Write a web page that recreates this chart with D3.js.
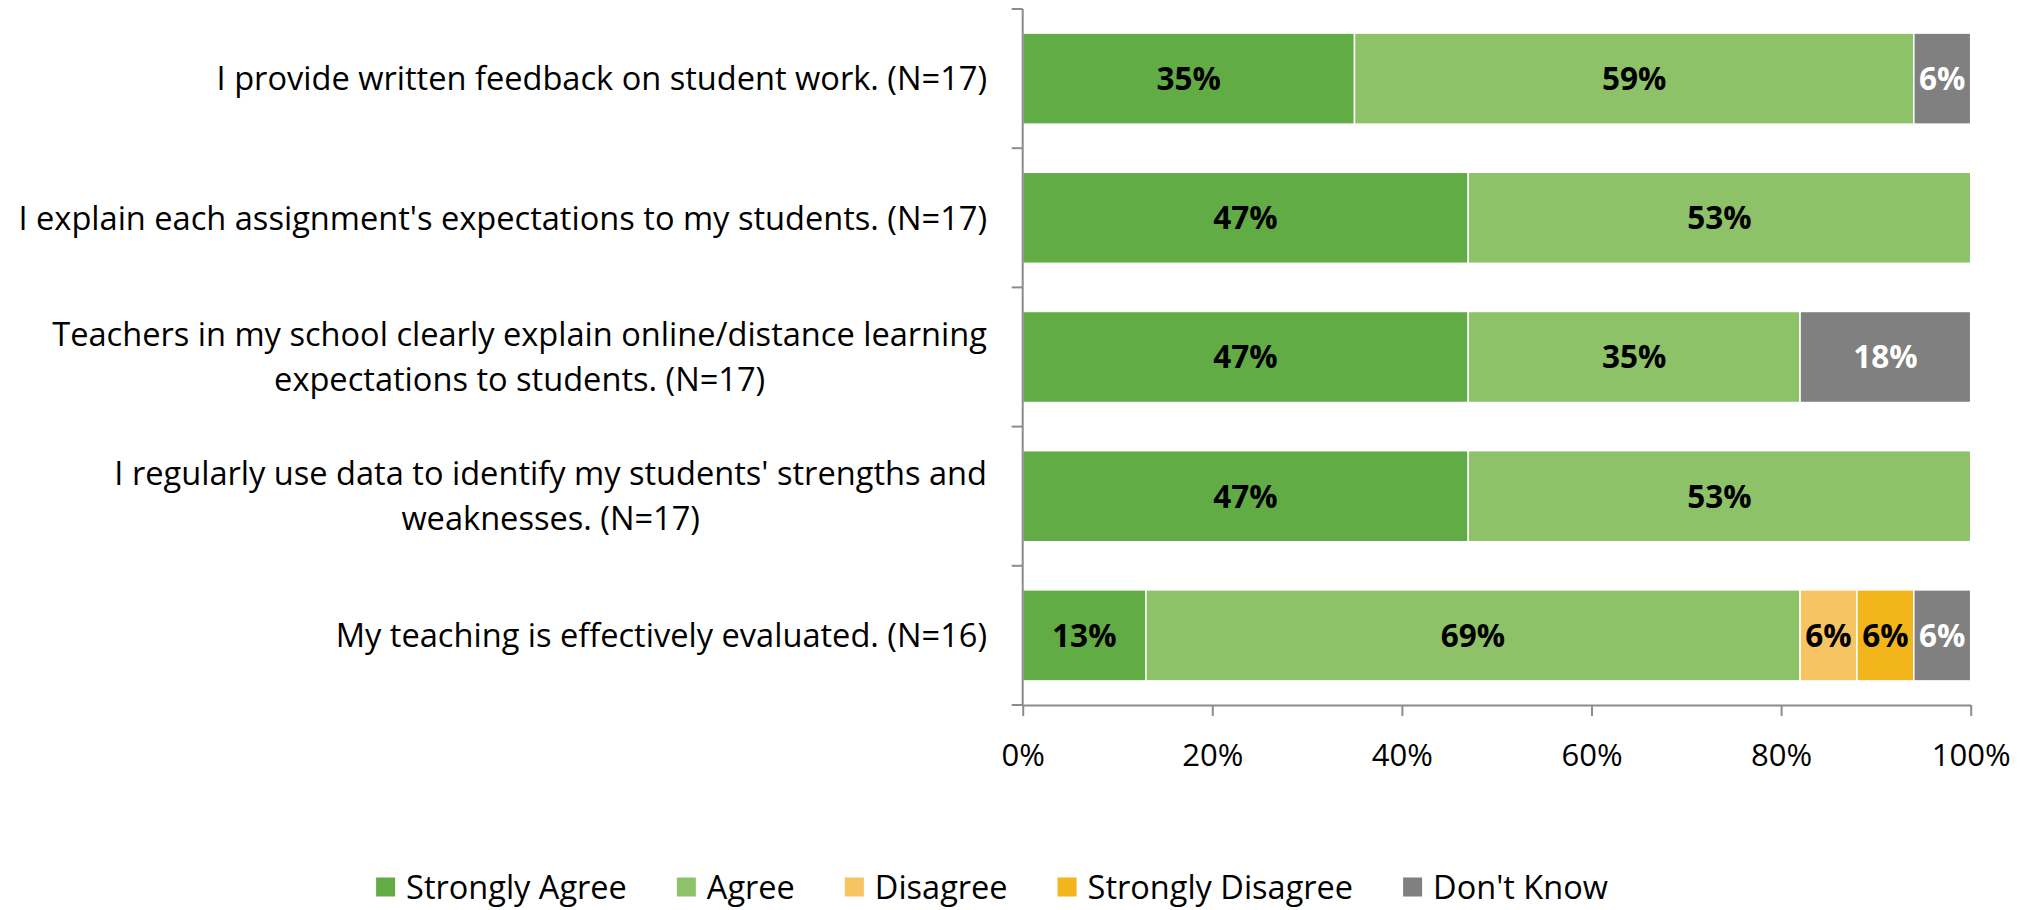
<!DOCTYPE html>
<html>
<head>
<meta charset="utf-8">
<script src="https://cdn.jsdelivr.net/npm/d3@7"></script>
<style>
  html, body { margin: 0; padding: 0; background: #fff; }
  svg { display: block; font-family: "Open Sans", sans-serif; }
</style>
</head>
<body>
<svg id="chart" width="2030" height="910"></svg>
<script>
const categories = [
  "I provide written feedback on student work. (N=17)",
  "I explain each assignment's expectations to my students. (N=17)",
  "Teachers in my school clearly explain online/distance learning\nexpectations to students. (N=17)",
  "I regularly use data to identify my students' strengths and\nweaknesses. (N=17)",
  "My teaching is effectively evaluated. (N=16)"
];
const seriesNames = ["Strongly Agree", "Agree", "Disagree", "Strongly Disagree", "Don't Know"];
const stronglyAgree    = [35, 47, 47, 47, 13];
const agree            = [59, 53, 35, 53, 69];
const disagree         = [0, 0, 0, 0, 6];
const stronglyDisagree = [0, 0, 0, 0, 6];
const dontKnow         = [6, 0, 18, 0, 6];
const xTicks = [0, 20, 40, 60, 80, 100];

const colors = ["#62ac46", "#8dc268", "#f6c462", "#f2b51c", "#808080"];
const labelColors = ["#000", "#000", "#000", "#000", "#fff"];

const seriesValues = [stronglyAgree, agree, disagree, stronglyDisagree, dontKnow];
const rows = categories.map((c, i) => {
  const r = { category: c };
  seriesNames.forEach((s, j) => r[s] = seriesValues[j][i]);
  return r;
});

const svg = d3.select("#chart");
const x0 = 1022.7, x1 = 1970.7, yTop = 9, yBot = 705;

const x = d3.scaleLinear().domain([0, 100]).range([x0, x1]);
const y = d3.scaleBand().domain(categories).range([yTop, yBot]).paddingInner(0.346).paddingOuter(0.173);

const stack = d3.stack().keys(seriesNames);
const stacked = stack(rows);

const g = svg.append("g");
stacked.forEach((layer, j) => {
  const lg = g.append("g");
  layer.forEach((d, i) => {
    const v = d[1] - d[0];
    if (v <= 0) return;
    lg.append("rect")
      .attr("x", x(d[0]))
      .attr("y", y(categories[i]))
      .attr("width", x(d[1]) - x(d[0]))
      .attr("height", y.bandwidth())
      .attr("fill", colors[j])
      .attr("stroke", "#fff")
      .attr("stroke-width", 1.5);
    lg.append("text")
      .attr("x", (x(d[0]) + x(d[1])) / 2)
      .attr("y", y(categories[i]) + y.bandwidth() / 2)
      .attr("dy", "0.36em")
      .attr("text-anchor", "middle")
      .attr("font-weight", "bold")
      .attr("font-size", 31.5)
      .attr("fill", labelColors[j])
      .text(v + "%");
  });
});

const axisColor = "#8c8c8c";
// Y axis line and ticks at band boundaries
svg.append("line").attr("x1", x0).attr("x2", x0).attr("y1", yTop).attr("y2", yBot)
  .attr("stroke", axisColor).attr("stroke-width", 2);
d3.range(categories.length + 1).forEach(k => {
  const yy = yTop + k * (yBot - yTop) / categories.length;
  svg.append("line").attr("x1", x0 - 11).attr("x2", x0).attr("y1", yy).attr("y2", yy)
    .attr("stroke", axisColor).attr("stroke-width", 2);
});

// X axis
const xAxis = d3.axisBottom(x).tickValues(xTicks).tickSize(11).tickSizeOuter(0).tickFormat(d => d + "%");
const xg = svg.append("g").attr("transform", `translate(0,${yBot})`).call(xAxis);
xg.select(".domain").attr("stroke", axisColor).attr("stroke-width", 2);
xg.selectAll(".tick line").attr("stroke", axisColor).attr("stroke-width", 2);
xg.selectAll(".tick text").attr("font-size", 31).attr("font-family", "Open Sans, sans-serif")
  .attr("fill", "#000").attr("y", 50).attr("dy", "0.36em");

// Category labels
const labelRight = 987;
categories.forEach(c => {
  const lines = c.split("\n");
  const t = svg.append("text").attr("font-size", 32.6).attr("fill", "#000").attr("text-anchor", "middle");
  const cy = y(c) + y.bandwidth() / 2;
  const lh = 45;
  const spans = lines.map((ln, k) => t.append("tspan")
    .attr("y", cy + (k - (lines.length - 1) / 2) * lh)
    .attr("dy", "0.36em").text(ln));
  let w = 0;
  spans.forEach(s => { w = Math.max(w, s.node().getComputedTextLength()); });
  spans.forEach(s => s.attr("x", labelRight - w / 2));
});

// Legend
const legend = svg.append("g");
let lx = 0;
seriesNames.forEach((s, j) => {
  const ig = legend.append("g").attr("transform", `translate(${lx},0)`);
  ig.append("rect").attr("x", 0).attr("y", -9.5).attr("width", 19).attr("height", 19).attr("fill", colors[j]);
  const tt = ig.append("text").attr("x", 30).attr("dy", "0.36em").attr("font-size", 32.5).attr("fill", "#000").text(s);
  const tw = tt.node().getComputedTextLength();
  lx += 30 + tw + 50;
});
const totalW = lx - 50;
legend.attr("transform", `translate(${992 - totalW / 2},887)`);
</script>
</body>
</html>
